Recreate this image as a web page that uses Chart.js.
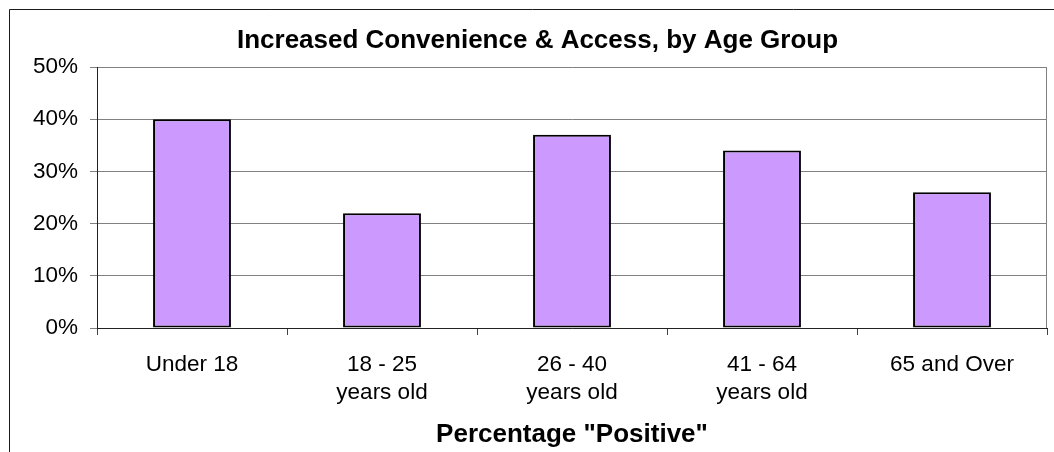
<!DOCTYPE html>
<html>
<head>
<meta charset="utf-8">
<script src="https://cdn.jsdelivr.net/npm/chart.js@4/dist/chart.umd.min.js"></script>
<style>
  html, body { margin: 0; padding: 0; background: #ffffff; }
  #wrap { width: 1054px; height: 452px; position: relative; }
</style>
</head>
<body>
<div id="wrap"><canvas id="c" width="1054" height="452"></canvas></div>
<script>
const categories = [["Under 18"], ["18 - 25", "years old"], ["26 - 40", "years old"], ["41 - 64", "years old"], ["65 and Over"]];
const positiveShare = [40, 22, 37, 34, 26];
const yTickValues = [0, 10, 20, 30, 40, 50];
const chartTitle = "Increased Convenience & Access, by Age Group";
const xAxisTitle = 'Percentage "Positive"';

const frame = {
  id: 'frame',
  beforeDraw(chart) {
    const ctx = chart.ctx;
    ctx.save();
    ctx.fillStyle = '#ffffff';
    ctx.fillRect(0, 0, chart.width, chart.height);
    ctx.strokeStyle = '#1a1a1a';
    ctx.lineWidth = 1;
    ctx.beginPath();
    ctx.moveTo(9.5, chart.height + 5);
    ctx.lineTo(9.5, 9.5);
    ctx.lineTo(chart.width + 5, 9.5);
    ctx.stroke();
    ctx.restore();
  },
  afterDatasetsDraw(chart) {
    const a = chart.chartArea;
    const ctx = chart.ctx;
    ctx.save();
    ctx.strokeStyle = '#808080';
    ctx.lineWidth = 1;
    ctx.beginPath();
    ctx.moveTo(Math.round(a.right) - 0.5, a.top);
    ctx.lineTo(Math.round(a.right) - 0.5, a.bottom);
    ctx.stroke();
    ctx.restore();
  }
};

new Chart(document.getElementById('c'), {
  type: 'bar',
  data: {
    labels: categories,
    datasets: [{
      data: positiveShare,
      backgroundColor: '#CC99FF',
      borderColor: '#000000',
      borderWidth: 2,
      borderSkipped: false,
      categoryPercentage: 1,
      barPercentage: 0.41
    }]
  },
  options: {
    responsive: false,
    animation: false,
    devicePixelRatio: 1,
    layout: { padding: { left: 28, right: 7, top: 0, bottom: 0 } },
    plugins: {
      legend: { display: false },
      tooltip: { enabled: false },
      title: {
        display: true,
        text: chartTitle,
        color: '#000000',
        font: { family: 'Liberation Sans, Arial, sans-serif', size: 26, weight: 'bold', lineHeight: 1.2 },
        padding: { top: 25, bottom: 10.8 }
      }
    },
    scales: {
      x: {
        grid: { display: true, drawOnChartArea: false, drawTicks: true, tickLength: 7, color: '#404040', offset: true },
        border: { display: true, color: '#222222', width: 1 },
        ticks: {
          color: '#000000',
          padding: 15,
          maxRotation: 0,
          autoSkip: false,
          font: { family: 'Liberation Sans, Arial, sans-serif', size: 22.5, lineHeight: 1.28 }
        },
        title: {
          display: true,
          text: xAxisTitle,
          color: '#000000',
          font: { family: 'Liberation Sans, Arial, sans-serif', size: 26, weight: 'bold', lineHeight: 1.2 },
          padding: { top: 0, bottom: 2 }
        },
        afterFit(scale) { scale.height = 124; }
      },
      y: {
        min: 0,
        max: 50,
        afterBuildTicks(scale) { scale.ticks = yTickValues.map(v => ({ value: v })); },
        grid: { display: true, drawTicks: true, tickLength: 7, color: '#808080', lineWidth: 1 },
        border: { display: true, color: '#222222', width: 1 },
        ticks: {
          color: '#000000',
          padding: 12,
          font: { family: 'Liberation Sans, Arial, sans-serif', size: 22.5 },
          callback: (v) => v + '%'
        },
        afterFit(scale) { scale.width = 69; }
      }
    }
  },
  plugins: [frame]
});
</script>
</body>
</html>
